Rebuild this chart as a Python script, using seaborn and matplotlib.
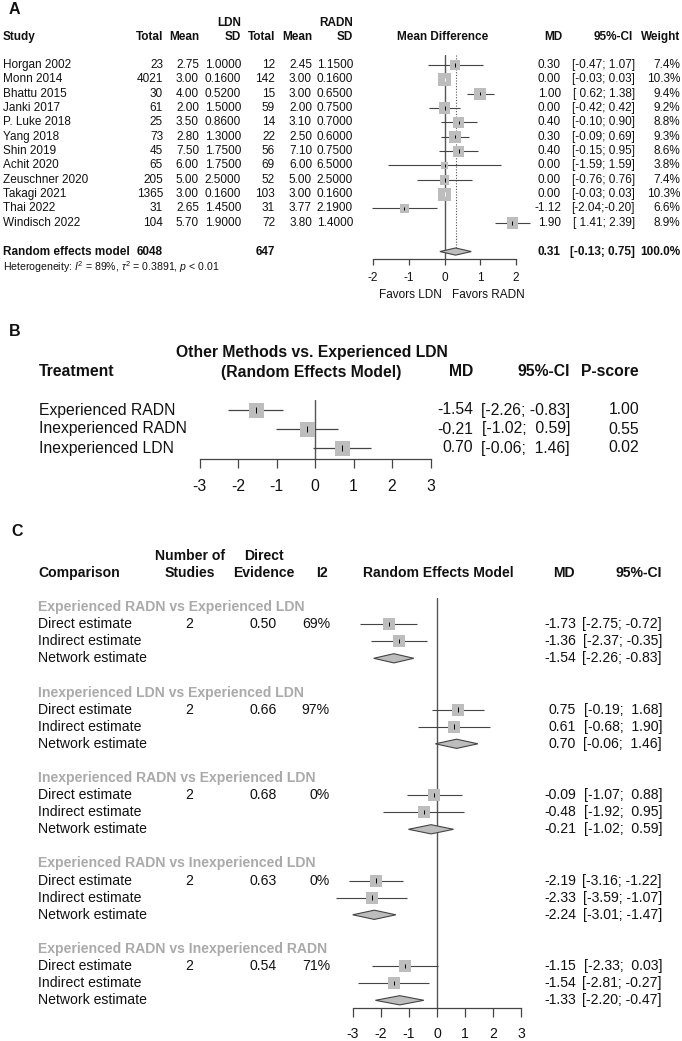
import numpy as np
import pandas as pd
import matplotlib
matplotlib.use("Agg")
import matplotlib.pyplot as plt
import matplotlib.transforms as mtrans
import seaborn as sns

# ---------------- Panel A data ----------------
studies = ["Horgan 2002", "Monn 2014", "Bhattu 2015", "Janki 2017", "P. Luke 2018",
           "Yang 2018", "Shin 2019", "Achit 2020", "Zeuschner 2020", "Takagi 2021",
           "Thai 2022", "Windisch 2022"]
ldn_total = [23, 4021, 30, 61, 25, 73, 45, 65, 205, 1365, 31, 104]
ldn_mean = [2.75, 3.00, 4.00, 2.00, 3.50, 2.80, 7.50, 6.00, 5.00, 3.00, 2.65, 5.70]
ldn_sd = [1.0, 0.16, 0.52, 1.5, 0.86, 1.3, 1.75, 1.75, 2.5, 0.16, 1.45, 1.9]
radn_total = [12, 142, 15, 59, 14, 22, 56, 69, 52, 103, 31, 72]
radn_mean = [2.45, 3.00, 3.00, 2.00, 3.10, 2.50, 7.10, 6.00, 5.00, 3.00, 3.77, 3.80]
radn_sd = [1.15, 0.16, 0.65, 0.75, 0.70, 0.60, 0.75, 6.50, 2.50, 0.16, 2.19, 1.40]
a_md = [0.30, 0.00, 1.00, 0.00, 0.40, 0.30, 0.40, 0.00, 0.00, 0.00, -1.12, 1.90]
a_lo = [-0.47, -0.03, 0.62, -0.42, -0.10, -0.09, -0.15, -1.59, -0.76, -0.03, -2.04, 1.41]
a_hi = [1.07, 0.03, 1.38, 0.42, 0.90, 0.69, 0.95, 1.59, 0.76, 0.03, -0.20, 2.39]
a_weight = [7.4, 10.3, 9.4, 9.2, 8.8, 9.3, 8.6, 3.8, 7.4, 10.3, 6.6, 8.9]
pooled = [0.31, -0.13, 0.75]
pooled_totals = [6048, 647]
a_ticks = [-2, -1, 0, 1, 2]

# ---------------- Panel B data ----------------
treatments = ["Experienced RADN", "Inexperienced RADN", "Inexperienced LDN"]
b_md = [-1.54, -0.21, 0.70]
b_lo = [-2.26, -1.02, -0.06]
b_hi = [-0.83, 0.59, 1.46]
pscore = [1.00, 0.55, 0.02]
bc_ticks = [-3, -2, -1, 0, 1, 2, 3]

# ---------------- Panel C data ----------------
comparisons = ["Experienced RADN vs Experienced LDN",
               "Inexperienced LDN vs Experienced LDN",
               "Inexperienced RADN vs Experienced LDN",
               "Experienced RADN vs Inexperienced LDN",
               "Experienced RADN vs Inexperienced RADN"]
estimate_labels = ["Direct estimate", "Indirect estimate", "Network estimate"]
n_studies = [2, 2, 2, 2, 2]
direct_evidence = [0.50, 0.66, 0.68, 0.63, 0.54]
i2 = [69, 97, 0, 0, 71]
direct_md = [-1.73, 0.75, -0.09, -2.19, -1.15]
direct_lo = [-2.75, -0.19, -1.07, -3.16, -2.33]
direct_hi = [-0.72, 1.68, 0.88, -1.22, 0.03]
indirect_md = [-1.36, 0.61, -0.48, -2.33, -1.54]
indirect_lo = [-2.37, -0.68, -1.92, -3.59, -2.81]
indirect_hi = [-0.35, 1.90, 0.95, -1.07, -0.27]
network_md = [-1.54, 0.70, -0.21, -2.24, -1.33]
network_lo = [-2.26, -0.06, -1.02, -3.01, -2.20]
network_hi = [-0.83, 1.46, 0.59, -1.47, -0.47]

# ---------------- style ----------------
sns.set_theme(style="ticks")
plt.rcParams['font.family'] = ['Liberation Sans', 'DejaVu Sans']
plt.rcParams['mathtext.fontset'] = 'custom'
plt.rcParams['mathtext.rm'] = 'Liberation Sans'
plt.rcParams['mathtext.it'] = 'Liberation Sans:italic'
plt.rcParams['mathtext.bf'] = 'Liberation Sans:bold'

TXT = '#111111'
SQ = '#bdbdbd'
LN = '#444444'
GRP = '#aaaaaa'

W, H = 682, 1041
fig = plt.figure(figsize=(W / 100, H / 100), dpi=100)
base = fig.add_axes([0, 0, 1, 1])
base.set_xlim(0, W)
base.set_ylim(H, 0)
base.axis('off')


def add_forest(x0, xpu, xlim, y0, rpx, ytop, ybot, ticks, fs, ticklen, pad):
    left = x0 + xlim[0] * xpu
    width = (xlim[1] - xlim[0]) * xpu
    top = y0 + ytop * rpx
    bottom = y0 + ybot * rpx
    ax = fig.add_axes([left / W, 1 - bottom / H, width / W, (bottom - top) / H])
    ax.patch.set_alpha(0)
    for s in ['top', 'right', 'left']:
        ax.spines[s].set_visible(False)
    ax.spines['bottom'].set_color(LN)
    ax.spines['bottom'].set_linewidth(0.9)
    ax.spines['bottom'].set_bounds(ticks[0], ticks[-1])
    ax.axvline(0, color='#555555', lw=1.0, zorder=0)
    return ax, (xlim, (ybot, ytop), ticks, fs, ticklen, pad)


def finish(ax, spec):
    xlim, ylim, ticks, fs, ticklen, pad = spec
    ax.set_xlim(*xlim)
    ax.set_ylim(*ylim)
    ax.set_xticks(ticks)
    ax.set_xticklabels([str(t) for t in ticks])
    ax.set_yticks([])
    ax.set_xlabel('')
    ax.set_ylabel('')
    ax.tick_params(axis='x', bottom=True, direction='out', length=ticklen, width=0.9,
                   color=LN, labelsize=fs, pad=pad, labelcolor=TXT)
    if ax.get_legend() is not None:
        ax.get_legend().remove()


def diamond(ax, lo, md, hi, y, h):
    ax.fill([lo, md, hi, md], [y, y - h, y, y + h], facecolor=SQ, edgecolor='#444444',
            lw=0.8, zorder=3)


def fmt_ci(lo, hi, sep):
    return "[" + f"{lo:5.2f}" + sep + f"{hi:5.2f}" + "]"


# ======================= Panel A =======================
FA = 8.5
xpuA = 35.75
axA, specA = add_forest(444.5, xpuA, (-2.6, 2.6), 65, 14.35, -0.7, 13.52, a_ticks, FA, 4.3, 5)
rowsA = np.arange(len(studies))
dfA = pd.DataFrame({"md": a_md, "row": rowsA, "lo": a_lo, "hi": a_hi, "w": a_weight})
side_px = 2.5 + dfA["w"].to_numpy()
axA.hlines(dfA["row"], dfA["lo"], dfA["hi"], color=LN, lw=0.8, zorder=1)
sns.scatterplot(data=dfA, x="md", y="row", marker='s', s=(side_px * 0.72) ** 2,
                color=SQ, linewidth=0, ax=axA, zorder=2, legend=False)
tick_cols = ['white' if (h - l) / 2 < s / 2 / xpuA else 'black'
             for l, h, s in zip(a_lo, a_hi, side_px)]
axA.vlines(dfA["md"], dfA["row"] - 0.12, dfA["row"] + 0.12, colors=tick_cols, lw=0.7, zorder=3)
sum_row = len(studies) + 1
axA.vlines(pooled[0], -0.7, sum_row, color='#555555', lw=0.8, linestyles=(0, (1, 1.5)), zorder=0)
diamond(axA, pooled[1], pooled[0], pooled[2], sum_row, 0.25)
finish(axA, specA)

tA = mtrans.blended_transform_factory(base.transData, axA.transData)
base.text(9, 9, "A", fontsize=11.5, fontweight='bold', ha='left', va='center', color=TXT)
hdr = dict(fontsize=FA, fontweight='bold', va='center', color=TXT)
base.text(241, 23, "LDN", ha='right', **hdr)
base.text(353, 23, "RADN", ha='right', **hdr)
for x, s, ha in [(3, "Study", 'left'), (163, "Total", 'right'), (199, "Mean", 'right'),
                 (241, "SD", 'right'), (275, "Total", 'right'), (312, "Mean", 'right'),
                 (353, "SD", 'right'), (443, "Mean Difference", 'center'),
                 (562, "MD", 'right'), (633, "95%-CI", 'right'), (680, "Weight", 'right')]:
    base.text(x, 37, s, ha=ha, **hdr)

rt = dict(fontsize=FA, va='center', color=TXT, transform=tA)
for i, name in enumerate(studies):
    base.text(3, i, name, ha='left', **rt)
    base.text(163, i, f"{ldn_total[i]}", ha='right', **rt)
    base.text(199, i, f"{ldn_mean[i]:.2f}", ha='right', **rt)
    base.text(241, i, f"{ldn_sd[i]:.4f}", ha='right', **rt)
    base.text(275, i, f"{radn_total[i]}", ha='right', **rt)
    base.text(312, i, f"{radn_mean[i]:.2f}", ha='right', **rt)
    base.text(353, i, f"{radn_sd[i]:.4f}", ha='right', **rt)
    base.text(561, i, f"{a_md[i]:.2f}", ha='right', **rt)
    base.text(635, i, fmt_ci(a_lo[i], a_hi[i], ";"), ha='right', **rt)
    base.text(680, i, f"{a_weight[i]:.1f}%", ha='right', **rt)

rb = dict(rt, fontweight='bold')
base.text(3, sum_row, "Random effects model", ha='left', **rb)
base.text(163, sum_row, f"{pooled_totals[0]}", ha='right', **rb)
base.text(275, sum_row, f"{pooled_totals[1]}", ha='right', **rb)
base.text(561, sum_row, f"{pooled[0]:.2f}", ha='right', **rb)
base.text(635, sum_row, fmt_ci(pooled[1], pooled[2], ";"), ha='right', **rb)
base.text(680, sum_row, "100.0%", ha='right', **rb)
base.text(3, 267, r"Heterogeneity: $I^2$ = 89%, $\tau^2$ = 0.3891, $p$ < 0.01",
          fontsize=7.6, ha='left', va='center', color=TXT)
base.text(410, 295, "Favors LDN", fontsize=FA, ha='center', va='center', color=TXT)
base.text(488, 295, "Favors RADN", fontsize=FA, ha='center', va='center', color=TXT)

# ======================= Panel B =======================
FB = 11.3
axB, specB = add_forest(315, 38.5, (-3.5, 3.5), 410, 19, -0.53, 2.58, bc_ticks, FB, 6.5, 8)
dfB = pd.DataFrame({"md": b_md, "row": np.arange(3), "lo": b_lo, "hi": b_hi})
axB.hlines(dfB["row"], dfB["lo"], dfB["hi"], color=LN, lw=0.9, zorder=1)
sns.scatterplot(data=dfB, x="md", y="row", marker='s', s=(15 * 0.72) ** 2,
                color=SQ, linewidth=0, ax=axB, zorder=2, legend=False)
axB.vlines(dfB["md"], dfB["row"] - 0.14, dfB["row"] + 0.14, color='black', lw=0.7, zorder=3)
finish(axB, specB)

tB = mtrans.blended_transform_factory(base.transData, axB.transData)
base.text(9, 332, "B", fontsize=11.5, fontweight='bold', ha='left', va='center', color=TXT)
hb = dict(fontsize=FB, fontweight='bold', va='center', color=TXT)
base.text(312, 352, "Other Methods vs. Experienced LDN", ha='center', **hb)
base.text(39, 372, "Treatment", ha='left', **hb)
base.text(311, 372, "(Random Effects Model)", ha='center', **hb)
base.text(473, 372, "MD", ha='right', **hb)
base.text(570, 372, "95%-CI", ha='right', **hb)
base.text(639, 372, "P-score", ha='right', **hb)
rtB = dict(fontsize=FB, va='center', color=TXT, transform=tB)
for i, t in enumerate(treatments):
    base.text(39, i, t, ha='left', **rtB)
    base.text(473, i, f"{b_md[i]:.2f}", ha='right', **rtB)
    base.text(570, i, fmt_ci(b_lo[i], b_hi[i], "; "), ha='right', **rtB)
    base.text(639, i, f"{pscore[i]:.2f}", ha='right', **rtB)

# ======================= Panel C =======================
FC = 10.1
rowpx = 17.1
axC, specC = add_forest(437, 28, (-4.0, 4.0), 607, rowpx, -0.53, 23.45, bc_ticks, FC, 6.5, 7)
recs = []
for g in range(len(comparisons)):
    for k, (m, l, h) in enumerate([(direct_md, direct_lo, direct_hi),
                                    (indirect_md, indirect_lo, indirect_hi),
                                    (network_md, network_lo, network_hi)]):
        recs.append({"g": g, "kind": k, "row": 5 * g + 1 + k, "md": m[g], "lo": l[g], "hi": h[g]})
dfC = pd.DataFrame(recs)
sq = dfC[dfC["kind"] < 2]
axC.hlines(sq["row"], sq["lo"], sq["hi"], color=LN, lw=0.8, zorder=1)
sns.scatterplot(data=sq, x="md", y="row", marker='s', s=(12.5 * 0.72) ** 2,
                color=SQ, linewidth=0, ax=axC, zorder=2, legend=False)
axC.vlines(sq["md"], sq["row"] - 0.13, sq["row"] + 0.13, color='black', lw=0.7, zorder=3)
for _, r in dfC[dfC["kind"] == 2].iterrows():
    diamond(axC, r["lo"], r["md"], r["hi"], r["row"], 0.27)
finish(axC, specC)

tC = mtrans.blended_transform_factory(base.transData, axC.transData)
base.text(11, 532, "C", fontsize=11.5, fontweight='bold', ha='left', va='center', color=TXT)
hc = dict(fontsize=FC, fontweight='bold', va='center', color=TXT)
base.text(190, 556, "Number of", ha='center', **hc)
base.text(264, 556, "Direct", ha='center', **hc)
base.text(38, 573, "Comparison", ha='left', **hc)
base.text(190, 573, "Studies", ha='center', **hc)
base.text(264, 573, "Evidence", ha='center', **hc)
base.text(328, 573, "I2", ha='right', **hc)
base.text(438, 573, "Random Effects Model", ha='center', **hc)
base.text(575, 573, "MD", ha='right', **hc)
base.text(662, 573, "95%-CI", ha='right', **hc)
rtC = dict(fontsize=FC, va='center', color=TXT, transform=tC)
for g, comp in enumerate(comparisons):
    base.text(38, 5 * g, comp, ha='left', fontsize=FC, fontweight='bold', va='center',
              color=GRP, transform=tC)
    for k, lab in enumerate(estimate_labels):
        base.text(38, 5 * g + 1 + k, lab, ha='left', **rtC)
    base.text(189, 5 * g + 1, f"{n_studies[g]}", ha='center', **rtC)
    base.text(277, 5 * g + 1, f"{direct_evidence[g]:.2f}", ha='right', **rtC)
    base.text(330, 5 * g + 1, f"{i2[g]}%", ha='right', **rtC)
for _, r in dfC.iterrows():
    base.text(576, r["row"], f"{r['md']:.2f}", ha='right', **rtC)
    base.text(662, r["row"], fmt_ci(r["lo"], r["hi"], "; "), ha='right', **rtC)

fig.savefig("out.png", dpi=100, facecolor='white')
